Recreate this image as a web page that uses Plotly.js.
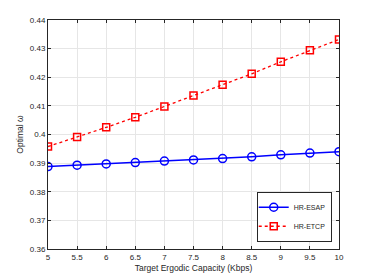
<!DOCTYPE html>
<html><head><meta charset="utf-8">
<script src="https://cdn.plot.ly/plotly-3.0.1.min.js"></script>
<style>html,body{margin:0;padding:0;background:#fff;}#chart{width:374px;height:280px;}</style>
</head><body><div id="chart"></div>
<script>
const capacity = [5, 5.5, 6, 6.5, 7, 7.5, 8, 8.5, 9, 9.5, 10];
const hrEsap = [0.3888, 0.3893, 0.3897, 0.3902, 0.3907, 0.3911, 0.3916, 0.3922, 0.3929, 0.3935, 0.3940];
const hrEtcp = [0.3958, 0.3991, 0.4025, 0.4060, 0.4098, 0.4136, 0.4174, 0.4212, 0.4254, 0.4294, 0.4332];
const xTicks = [5, 5.5, 6, 6.5, 7, 7.5, 8, 8.5, 9, 9.5, 10];
const yTicks = [0.36, 0.37, 0.38, 0.39, 0.4, 0.41, 0.42, 0.43, 0.44];

const traces = [
  {x: capacity, y: hrEsap, name: 'HR-ESAP', mode: 'lines+markers',
   line: {color: '#0000ff', width: 1.5},
   marker: {symbol: 'circle-open', size: 8, color: '#0000ff', line: {width: 1.5, color: '#0000ff'}}},
  {x: capacity, y: hrEtcp, name: 'HR-ETCP', mode: 'lines+markers',
   line: {color: '#ff0000', width: 1.3, dash: '3px,3px'},
   marker: {symbol: 'square-open', size: 7, color: '#ff0000', line: {width: 1.5, color: '#ff0000'}}}
];
const axisCommon = {
  showline: true, mirror: 'ticks', linecolor: '#262626', linewidth: 1,
  ticks: 'inside', ticklen: 3, tickcolor: '#262626',
  showgrid: true, gridcolor: '#e6e6e6', gridwidth: 1, zeroline: false,
  tickfont: {family: 'Liberation Sans, Arial, sans-serif', size: 8, color: '#262626'}
};
const layout = {
  width: 374, height: 280,
  margin: {l: 48, r: 35, t: 20, b: 31},
  paper_bgcolor: '#fff', plot_bgcolor: '#fff',
  showlegend: true,
  xaxis: Object.assign({}, axisCommon, {
    range: [5, 10], tickvals: xTicks, ticktext: xTicks.map(String),
    title: {text: 'Target Ergodic Capacity (Kbps)', standoff: 4,
      font: {family: 'Liberation Sans, Arial, sans-serif', size: 8.5, color: '#262626'}}
  }),
  yaxis: Object.assign({}, axisCommon, {
    range: [0.36, 0.44], tickvals: yTicks, ticktext: yTicks.map(v => v === 0.4 ? '0.4' : v.toFixed(2)),
    title: {text: 'Optimal ω', standoff: 4,
      font: {family: 'Liberation Sans, Arial, sans-serif', size: 8.5, color: '#262626'}}
  }),
  legend: {x: 0.975, y: 0.25, xanchor: 'right', yanchor: 'top',
    bgcolor: '#fff', bordercolor: '#262626', borderwidth: 1,
    font: {family: 'Liberation Sans, Arial, sans-serif', size: 7, color: '#262626'},
    tracegroupgap: 0, itemwidth: 30, indentation: -4}
};
Plotly.newPlot('chart', traces, layout, {displayModeBar: false, staticPlot: true});
</script></body></html>
